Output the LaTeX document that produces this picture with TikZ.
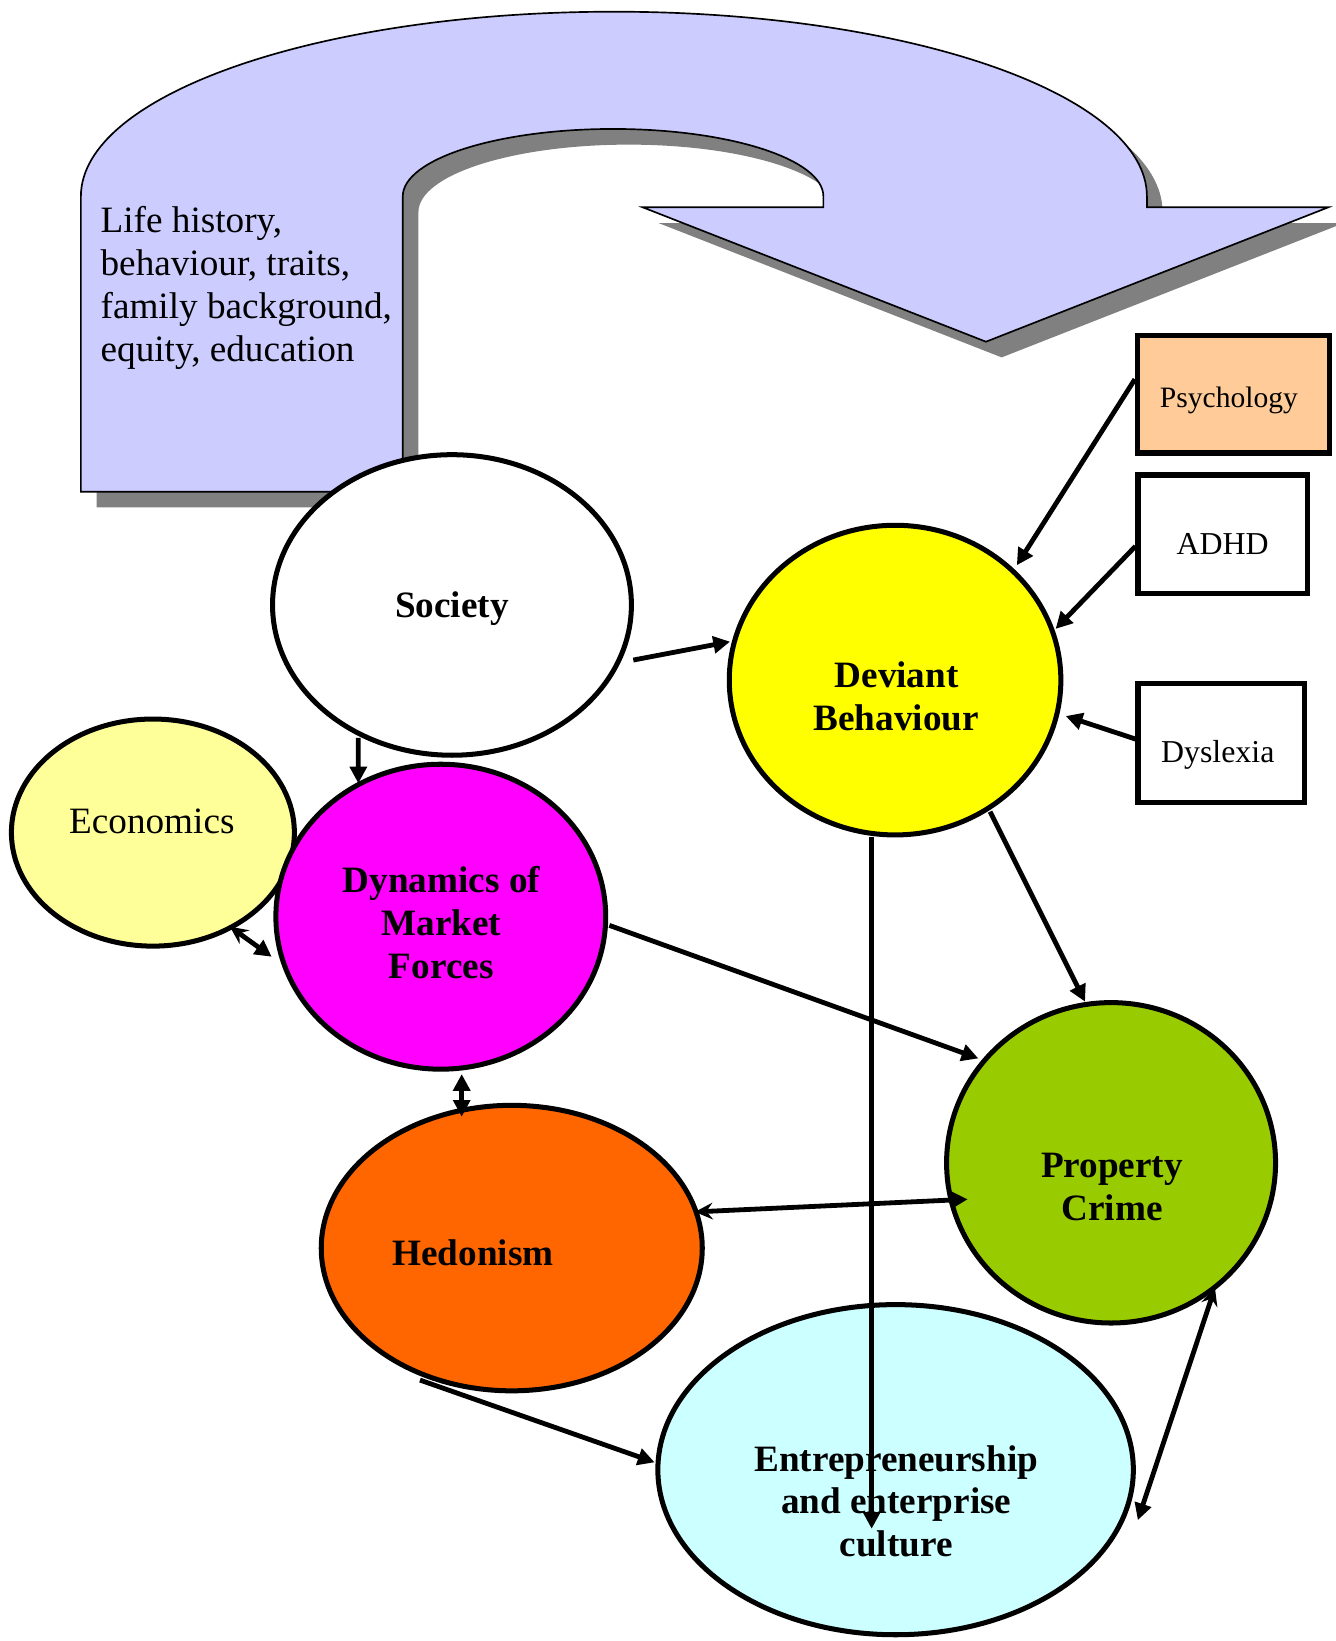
\documentclass[tikz,border=0pt]{standalone}
\usepackage{fontspec}
\setmainfont{Liberation Serif}
\usetikzlibrary{shapes.geometric,arrows.meta,calc}
\definecolor{ufill}{HTML}{CCCCFF}
\definecolor{ushadow}{HTML}{808080}
\definecolor{devY}{HTML}{FFFF00}
\definecolor{ecoY}{HTML}{FFFF99}
\definecolor{dynM}{HTML}{FF00FF}
\definecolor{hedO}{HTML}{FF6600}
\definecolor{proG}{HTML}{99CC00}
\definecolor{entC}{HTML}{CCFFFF}
\definecolor{psyO}{HTML}{FFCC99}
\tikzset{
  ell/.style={ellipse, draw=black, line width=4.8pt, outer sep=2.4pt, inner sep=0pt},
  boxnode/.style={rectangle, draw=black, line width=5pt, outer sep=2.5pt, inner sep=0pt},
  blbl/.style={inner sep=0pt, anchor=base, font=\bfseries\fontsize{35.6}{41}\selectfont},
  rlbl/.style={inner sep=0pt, anchor=base, font=\fontsize{35.6}{41}\selectfont},
  slbl/.style={inner sep=0pt, anchor=base, font=\fontsize{30.5}{36}\selectfont},
  conn/.style={line width=4.6pt, -{Triangle[length=16pt,width=16pt]}},
  dconn/.style={line width=4.6pt, {Stealth[length=17pt,width=16pt,inset=6pt]}-{Triangle[length=16pt,width=16pt]}},
  dconnT/.style={line width=4.6pt, {Triangle[length=16pt,width=16pt]}-{Triangle[length=16pt,width=16pt]}},
}
\begin{document}
\begin{tikzpicture}[x=1pt,y=1pt]
\useasboundingbox (0,0) rectangle (1277.5,-1570.3);
% U-turn arrow shadow
\begin{scope}[shift={(15,-15)}]
\fill[ushadow] (77.4,-470.5) -- (77.4,-188) arc[start angle=180,end angle=0,x radius=510.05,y radius=176.8]
  -- (1097.5,-198.4) -- (1271,-198.4) -- (943.5,-327) -- (615.1,-198.4) -- (787.9,-198.4) -- (787.9,-188)
  arc[start angle=0,end angle=180,x radius=201.25,y radius=64.6] -- (385.4,-470.5) -- cycle;
\end{scope}
% U-turn arrow
\filldraw[fill=ufill, draw=black, line width=1.6pt, line join=miter] (77.4,-470.5) -- (77.4,-188) arc[start angle=180,end angle=0,x radius=510.05,y radius=176.8]
  -- (1097.5,-198.4) -- (1271,-198.4) -- (943.5,-327) -- (615.1,-198.4) -- (787.9,-198.4) -- (787.9,-188)
  arc[start angle=0,end angle=180,x radius=201.25,y radius=64.6] -- (385.4,-470.5) -- cycle;
\node[rlbl, anchor=base west] (life1) at (96.1,-222.7) {Life history,};
\node[rlbl, anchor=base west] (life2) at (96.1,-263.8) {behaviour, traits,};
\node[rlbl, anchor=base west] (life3) at (96.1,-304.9) {family background,};
\node[rlbl, anchor=base west] (life4) at (96.1,-346.0) {equity, education};
% ellipses
\node[ell, fill=ecoY, minimum width=270.8pt, minimum height=217.3pt] (eco) at (146.3,-796.7) {};
\node[ell, fill=dynM, minimum width=315.6pt, minimum height=291.8pt] (dyn) at (421.8,-877.2) {};
\node[ell, fill=white, minimum width=343.4pt, minimum height=287.6pt] (soc) at (432.5,-578.9) {};
\node[ell, fill=devY, minimum width=317.3pt, minimum height=296.3pt] (dev) at (856.5,-650.8) {};
\node[ell, fill=hedO, minimum width=364.6pt, minimum height=273.2pt] (hed) at (489.7,-1194.3) {};
\node[ell, fill=proG, minimum width=314.8pt, minimum height=306.6pt] (pro) at (1063.2,-1112.7) {};
\node[ell, fill=entC, minimum width=455pt, minimum height=315.9pt] (ent) at (857,-1406.35) {};
% boxes
\node[boxnode, fill=psyO, minimum width=184.1pt, minimum height=112.6pt] (psy) at (1180.5,-377.2) {};
\node[boxnode, fill=white, minimum width=161.9pt, minimum height=113.5pt] (adhd) at (1170,-511.2) {};
\node[boxnode, fill=white, minimum width=159.3pt, minimum height=114.3pt] (dys) at (1168.7,-710.9) {};
% labels
\node[blbl] (socT) at (432.5,-590.9) {Society};
\node[blbl] (devT1) at (858,-658.1) {Deviant};
\node[blbl] (devT2) at (857.6,-698.6) {Behaviour};
\node[rlbl] (ecoT) at (145.3,-797.3) {Economics};
\node[blbl] (dynT1) at (422.3,-853.7) {Dynamics of};
\node[blbl] (dynT2) at (422.3,-895.1) {Market};
\node[blbl] (dynT3) at (422.3,-936.5) {Forces};
\node[blbl] (hedT) at (452.6,-1210.5) {Hedonism};
\node[blbl] (proT1) at (1064.1,-1126.8) {Property};
\node[blbl] (proT2) at (1064.1,-1168) {Crime};
\node[blbl] (entT1) at (857.6,-1408.5) {Entrepreneurship};
\node[blbl] (entT2) at (857.6,-1448.5) {and enterprise};
\node[blbl] (entT3) at (857.6,-1489.3) {culture};
\node[slbl, font=\fontsize{28.3}{34}\selectfont] (psyT) at (1176,-389.9) {Psychology};
\node[slbl] (adhdT) at (1170,-530.3) {ADHD};
\node[slbl] (dysT) at (1165.3,-729.3) {Dyslexia};
% connectors
\draw[conn] ([shift={(173.5,-52.7)}]soc.center) -- ([shift={(-157.9,36.8)}]dev.center);
\draw[conn] ([shift={(-89.6,-127.1)}]soc.center) -- ([shift={(-78.9,127.6)}]dyn.center);
\draw[dconn] ([shift={(73.8,-90.1)}]eco.center) -- ([shift={(-161.8,-38.3)}]dyn.center);
\draw[dconnT] ([shift={(20,-150.6)}]dyn.center) -- ([shift={(-47.9,125.7)}]hed.center);
\draw[conn] ([shift={(161.3,-8.3)}]dyn.center) -- ([shift={(-127,99.9)}]pro.center);
\draw[conn] ([shift={(90.9,-125.9)}]dev.center) -- ([shift={(-24.9,154.2)}]pro.center);
\draw[conn] ([shift={(-22.4,-149.8)}]dev.center) -- ([shift={(-22.9,-56.55)}]ent.center);
\draw[dconn] ([shift={(175.3,34.6)}]hed.center) -- ([shift={(-137.2,-34.9)}]pro.center);
\draw[dconn] ([shift={(99.4,-119.6)}]pro.center) -- ([shift={(231.8,-48.25)}]ent.center);
\draw[conn] ([shift={(-87.8,-126.3)}]hed.center) -- ([shift={(-230.6,7.05)}]ent.center);
\draw[conn] ([yshift=14.3pt]psy.west) -- ([shift={(116.5,109.9)}]dev.center);
\draw[conn] ([yshift=-11.5pt]adhd.west) -- ([shift={(153.6,49)}]dev.center);
\draw[conn] ([yshift=3.7pt]dys.west) -- ([shift={(163.3,-34.4)}]dev.center);
\end{tikzpicture}
\end{document}
